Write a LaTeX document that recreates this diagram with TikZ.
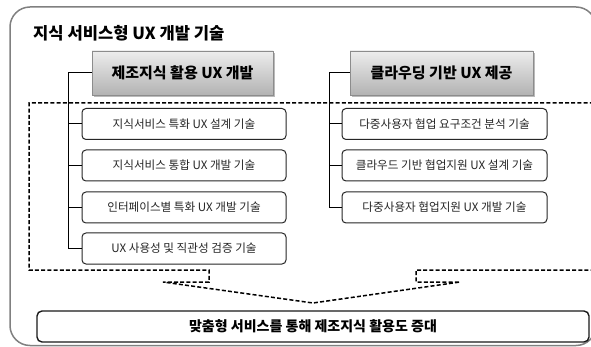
\documentclass[tikz,border=0pt]{standalone}
\usepackage{fontspec}
\setmainfont{Noto Sans CJK KR}
\usetikzlibrary{shadows}
\begin{document}
\begin{tikzpicture}[x=1pt,y=-1pt,
  itembox/.style={draw=black!85, line width=1pt, rounded corners=4pt, fill=white,
    text=black!85, inner sep=0pt, font=\fontsize{11.6}{13}\selectfont},
  lbox/.style={itembox, minimum width=204pt, minimum height=31pt},
  rbox/.style={itembox, minimum width=205pt, minimum height=31pt},
  headbox/.style={draw=black!45, line width=0.8pt, top color=black!7, bottom color=black!30,
    minimum height=44pt, inner sep=0pt, font=\bfseries\fontsize{15}{17}\selectfont,
    drop shadow={shadow xshift=2pt, shadow yshift=-2pt, opacity=0.45, fill=black!60}},
  conn/.style={line width=1pt, black},
  dashline/.style={dash pattern=on 4pt off 2.2pt, line width=1.5pt, black}]
\useasboundingbox (0,0) rectangle (591,347);
% outer frame
\draw[black!50, line width=1.5pt, rounded corners=20pt] (10,7) rectangle (596,345.5);
\node[anchor=west, inner sep=0pt, font=\bfseries\fontsize{16.6}{18}\selectfont] (title) at (33,33) {지식 서비스형 UX 개발 기술};
% dashed chevron region
\draw[dashline] (600,103) -- (29,103) -- (29,270) -- (209,270) -- (209,282) -- (163,282)
  -- (313,303) -- (460,282) -- (416,282) -- (416,270) -- (600,270);
% headers
\node[headbox, minimum width=181pt] (hl) at (182.5,73) {제조지식 활용 UX 개발};
\node[headbox, minimum width=183pt] (hr) at (441.5,73) {클라우딩 기반 UX 제공};
% left items
\node[lbox] (l1) at (184,124) {지식서비스 특화 UX 설계 기술};
\node[lbox] (l2) at (184,165.5) {지식서비스 통합 UX 개발 기술};
\node[lbox] (l3) at (184,207.5) {인터페이스별 특화 UX 개발 기술};
\node[lbox] (l4) at (184,248.5) {UX 사용성 및 직관성 검증 기술};
% right items
\node[rbox] (r1) at (444.5,124) {다중사용자 협업 요구조건 분석 기술};
\node[rbox] (r2) at (444.5,165.5) {클라우드 기반 협업지원 UX 설계 기술};
\node[rbox] (r3) at (444.5,207.5) {다중사용자 협업지원 UX 개발 기술};
% connectors
\coordinate (lbus) at (68,0);
\coordinate (rbus) at (329,0);
\draw[conn] (hl.west) -| (lbus |- l4.west) -- (l4.west);
\foreach \i in {1,2,3} \draw[conn] (lbus |- l\i.west) -- (l\i.west);
\draw[conn] (hr.west) -| (rbus |- r3.west) -- (r3.west);
\foreach \i in {1,2} \draw[conn] (rbus |- r\i.west) -- (r\i.west);
% bottom result
\node[draw=black!90, line width=1.4pt, rounded corners=5pt, fill=white, minimum width=552pt,
  minimum height=31pt, inner sep=0pt, font=\bfseries\fontsize{14}{16}\selectfont] (bot) at (313,326.5)
  {맞춤형 서비스를 통해 제조지식 활용도 증대};
\end{tikzpicture}
\end{document}
